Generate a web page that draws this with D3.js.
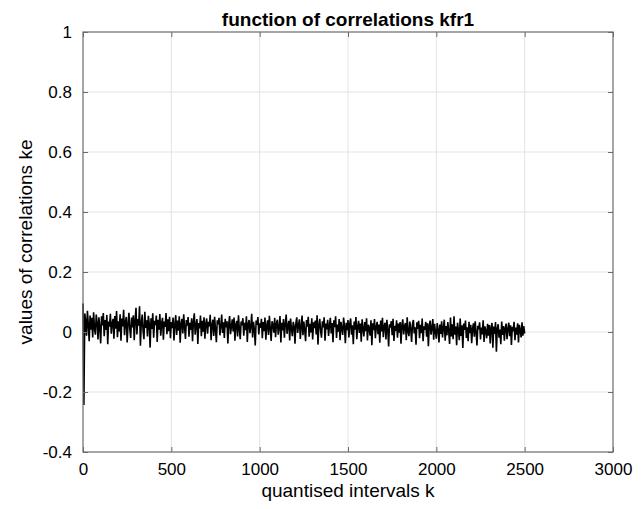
<!DOCTYPE html>
<html>
<head>
<meta charset="utf-8">
<script src="https://cdn.jsdelivr.net/npm/d3@7"></script>
<style>
  body { margin: 0; background: #fff; }
  svg { display: block; font-family: "Liberation Sans", Arial, sans-serif; }
</style>
</head>
<body>
<svg id="chart"></svg>
<script>
// Chart texts
const title = "function of correlations kfr1";
const xLabel = "quantised intervals k";
const yLabel = "values of correlations ke";

// Tick values
const xTicks = [0, 500, 1000, 1500, 2000, 2500, 3000];
const yTicks = [-0.4, -0.2, 0, 0.2, 0.4, 0.6, 0.8, 1];

// Step between stored samples of k
const kStep = 5;

// Correlation values, in thousandths, one every kStep from k = 0
const corrMilli = [
  95, -243, 62, 38, -12, 71, 24, -31, 55, 8, 47, -18, 66, 12, -9, 58, 31, -25, 49, 17,
  -38, 52, 22, 63, -14, 40, 7, 57, -41, 35, 18, 61, -6, 28, 44, -22, 53, 11, 70, -17,
  36, 2, 59, -29, 45, 19, 74, -11, 33, 50, -35, 26, 64, 9, -20, 48, 15, 56, -27, 39,
  81, -8, 43, 21, 86, -46, 30, 58, 5, -24, 67, 14, 39, -15, 54, 27, -52, 46, 10, 62,
  -19, 37, 23, 55, -33, 41, 8, 60, -12, 29, 47, -26, 35, 17, 63, -7, 42, 3, 51, -21,
  33, 13, 48, -28, 25, 56, -10, 38, 4, 52, -36, 27, 44, -5, 59, 16, -23, 40, 21, 50,
  -16, 31, 7, 46, -31, 36, 62, -9, 24, 43, -40, 30, 12, 55, -14, 37, 1, 49, -22, 28,
  45, -6, 34, 19, 57, -27, 23, 41, -13, 51, 8, -34, 39, 26, 47, -11, 20, 58, -3, 32,
  -20, 44, 15, 36, -38, 29, 53, -7, 18, 42, 2, 48, -29, 25, 37, -15, 56, 10, -24, 35,
  22, 46, -12, 31, 6, 52, -33, 27, 40, -4, 19, 61, -18, 34, 9, -45, 38, 24, 50, -8,
  29, 14, 44, -21, 33, 3, 48, -26, 21, 39, -10, 54, 12, -30, 36, 25, -2, 47, -17, 28,
  41, -9, 17, 53, -35, 31, 5, 43, -19, 26, 58, -6, 22, 37, -28, 45, 11, -14, 34, 20,
  -39, 30, 49, -3, 24, 42, -23, 16, 55, -11, 35, 7, -31, 40, 18, 51, -16, 27, -1, 46,
  -25, 32, 13, 38, -8, 56, -42, 23, 44, 4, -19, 36, 15, 49, -29, 28, 9, 41, -13, 21,
  47, -5, 30, -34, 39, 16, 52, -20, 25, 1, 43, -27, 34, 12, -10, 48, 19, -37, 31, 6,
  40, -18, 27, 45, -9, 22, -41, 35, 8, 50, -24, 19, 37, -3, 28, -32, 42, 11, -15, 33,
  3, 46, -28, 24, 14, -12, 39, -44, 29, 6, 43, -21, 17, 34, -7, 25, -36, 38, 2, 47,
  -17, 20, 31, -25, 41, 9, -48, 26, 15, 36, -11, 44, -30, 21, 4, 39, -19, 28, -2, 33,
  -39, 23, 42, -8, 18, 30, -27, 49, 1, -14, 35, 12, -33, 26, 40, -5, 16, -42, 32, 10,
  37, -21, 24, -4, 45, -31, 19, 7, 34, -16, 29, -47, 22, 38, -9, 13, 43, -26, 27, 0,
  -22, 30, 8, -35, 25, -6, 36, -18, 14, 41, -29, 20, -11, 33, 3, -40, 48, -15, 26, -24,
  52, -9, 18, -44, 31, 5, -27, 45, -13, 22, -53, 28, 7, 38, -20, 16, -31, 34, -4, 24,
  -37, 11, 29, -16, 36, -2, -45, 21, 9, 32, -25, 15, -8, 39, -33, 19, 4, -21, 27, -12,
  23, -38, 14, 30, -52, 18, -6, 33, -66, 12, 26, -19, 8, -41, 35, -10, 20, -29, 13, 28,
  -24, 10, 31, -14, 22, -43, 17, 2, 34, -27, 15, -9, 29, -35, 24, 6, -18, 32, -12, 20,
  -5
];

const width = 644;
const height = 509;
const margin = { top: 32, right: 31, bottom: 57, left: 83 };
const innerWidth = width - margin.left - margin.right;
const innerHeight = height - margin.top - margin.bottom;

const data = corrMilli.map((v, i) => ({ k: i * kStep, v: v / 1000 }));

const xScale = d3.scaleLinear().domain([0, 3000]).range([0, innerWidth]);
const yScale = d3.scaleLinear().domain([-0.4, 1]).range([innerHeight, 0]);

const svg = d3.select("#chart")
  .attr("width", width)
  .attr("height", height);

const g = svg.append("g")
  .attr("transform", `translate(${margin.left},${margin.top})`);

// grid lines
g.append("g")
  .selectAll("line")
  .data(xTicks.slice(1, -1))
  .join("line")
  .attr("x1", d => xScale(d)).attr("x2", d => xScale(d))
  .attr("y1", 0).attr("y2", innerHeight)
  .attr("stroke", "#e3e3e3");

g.append("g")
  .selectAll("line")
  .data(yTicks.slice(1, -1))
  .join("line")
  .attr("x1", 0).attr("x2", innerWidth)
  .attr("y1", d => yScale(d)).attr("y2", d => yScale(d))
  .attr("stroke", "#e3e3e3");

// the correlation line
const line = d3.line()
  .x(d => xScale(d.k))
  .y(d => yScale(d.v));

g.append("path")
  .datum(data)
  .attr("fill", "none")
  .attr("stroke", "#000")
  .attr("stroke-width", 1.6)
  .attr("d", line);

// axes, ticks pointing inside like matlab
const tickLen = 5;
const axisColor = "#6b6b6b";
// plain hyphen for negatives, as in the original
const yFmt = d => String(+d.toFixed(1));

function styleAxis(sel) {
  sel.select(".domain").remove();
  sel.selectAll(".tick line").attr("stroke", axisColor);
  sel.selectAll(".tick text")
    .attr("fill", "#000")
    .style("font-size", "17px");
}

function noLabels(sel) {
  sel.selectAll(".tick text").remove();
}

g.append("g")
  .attr("transform", `translate(0,${innerHeight})`)
  .call(d3.axisBottom(xScale).tickValues(xTicks).tickSize(-tickLen).tickPadding(11).tickFormat(d3.format("d")))
  .call(styleAxis);

g.append("g")
  .call(d3.axisTop(xScale).tickValues(xTicks).tickSize(-tickLen))
  .call(styleAxis)
  .call(noLabels);

g.append("g")
  .call(d3.axisLeft(yScale).tickValues(yTicks).tickSize(-tickLen).tickPadding(11).tickFormat(yFmt))
  .call(styleAxis);

g.append("g")
  .attr("transform", `translate(${innerWidth},0)`)
  .call(d3.axisRight(yScale).tickValues(yTicks).tickSize(-tickLen))
  .call(styleAxis)
  .call(noLabels);

// box
g.append("rect")
  .attr("width", innerWidth)
  .attr("height", innerHeight)
  .attr("fill", "none")
  .attr("stroke", axisColor)
  .attr("stroke-width", 1.2);

// texts
svg.append("text")
  .attr("x", margin.left + innerWidth / 2)
  .attr("y", 26)
  .attr("text-anchor", "middle")
  .style("font-size", "19px")
  .style("font-weight", "bold")
  .text(title);

svg.append("text")
  .attr("x", margin.left + innerWidth / 2)
  .attr("y", 497)
  .attr("text-anchor", "middle")
  .style("font-size", "19px")
  .text(xLabel);

svg.append("text")
  .attr("transform", `translate(32,${margin.top + innerHeight / 2}) rotate(-90)`)
  .attr("text-anchor", "middle")
  .style("font-size", "19px")
  .text(yLabel);
</script>
</body>
</html>
